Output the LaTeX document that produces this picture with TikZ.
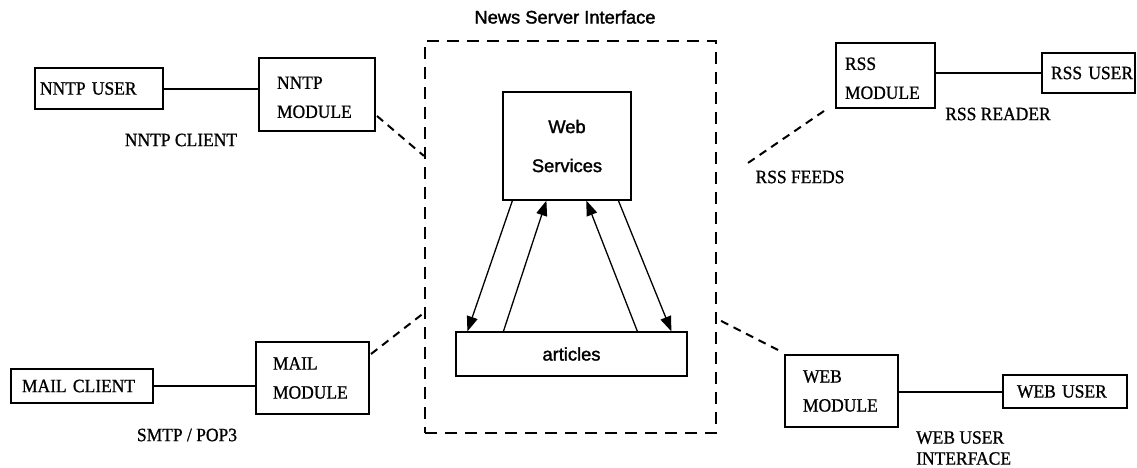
\documentclass[tikz,border=0pt]{standalone}
\usepackage{fontspec}
\setmainfont{Liberation Serif}[FakeStretch=0.93,FakeBold=0.9]
\newfontfamily\arialfont{Liberation Sans}[FakeBold=1.6]
\usetikzlibrary{arrows.meta,calc}

\begin{document}
\begin{tikzpicture}[x=1pt,y=-1pt,
  box/.style={draw, line width=2pt, rectangle, inner ysep=0pt, align=left,
              font=\fontsize{18.8}{29}\selectfont},
  inbox/.style={draw, line width=1.2pt, rectangle, inner sep=0pt, align=center,
              font=\arialfont\fontsize{18.3}{39}\selectfont},
  link/.style={line width=2pt},
  dlink/.style={line width=2pt, dash pattern=on 8pt off 6pt},
  flow/.style={line width=1.3pt, -{Triangle[length=15pt,width=11pt]}},
  lbl/.style={font=\fontsize{18.8}{21}\selectfont, inner sep=0pt},
]
\useasboundingbox (0,0) rectangle (1137,467);

% central server block
\node[draw, line width=2.2pt, dash pattern=on 12pt off 8pt, inner sep=0pt,
      minimum width=291pt, minimum height=392pt] (frame) at (570.5,237) {};
\node[inner sep=0pt, font=\arialfont\fontsize{18.3}{22}\selectfont] (title) at (565,17) {News Server Interface};
\node[inbox, minimum width=128pt, minimum height=108pt] (ws) at (567,146) {Web\\Services};
\node[inbox, minimum width=231pt, minimum height=44pt] (art) at (571.5,354) {articles};

\draw[flow] ($(ws.south west)+(10,0)$) -- ($(art.north west)+(12,0)$);
\draw[flow] ($(art.north west)+(48,0)$) -- ($(ws.south west)+(44,0)$);
\draw[flow] ($(art.north west)+(182,0)$) -- ($(ws.south west)+(84,0)$);
\draw[flow] ($(ws.south west)+(116,0)$) -- ($(art.north west)+(216,0)$);

% NNTP side
\node[box, text width=118pt, inner xsep=5pt, minimum height=41pt] (nntpuser) at (99,88.5) {NNTP USER};
\node[box, text width=80pt, inner xsep=18pt, minimum height=73pt] (nntpmod) at (317,94.5) {\rule{0pt}{18pt}NNTP\\MODULE};
\node[lbl] (nntpclient) at (181,140) {NNTP CLIENT};
\draw[link] (nntpuser.east) -- (nntpuser.east -| nntpmod.west);
\draw[dlink] ($(nntpmod.east)+(1,21.5)$) -- ($(frame.north west)+(0,116)$);

% mail side
\node[box, text width=120pt, inner xsep=11pt, minimum height=34pt] (mailclient) at (82,386) {MAIL CLIENT};
\node[box, text width=79pt, inner xsep=17pt, minimum height=72pt] (mailmod) at (312.5,378) {MAIL\\MODULE};
\node[lbl] (smtp) at (187,435) {SMTP / POP3};
\draw[link] (mailclient.east) -- (mailclient.east -| mailmod.west);
\draw[dlink] ($(mailmod.north east)+(1,13)$) -- ($(frame.north west)+(0,273)$);

% RSS side
\node[box, text width=81pt, inner xsep=9pt, minimum height=65pt] (rssmod) at (885.5,75.5) {\rule{0pt}{18pt}RSS\\MODULE};
\node[box, text width=93pt, inner xsep=0pt, minimum height=40pt] (rssuser) at (1088.5,73) {\hspace*{9pt}\mbox{RSS USER}};
\node[lbl] (rssreader) at (998,114) {RSS READER};
\node[lbl] (rssfeeds) at (800,177) {RSS FEEDS};
\coordinate (feedend) at (745,165);
\draw[link] (rssuser.west) -- (rssuser.west -| rssmod.east);
\draw[dlink] ($(rssmod.south west)+(-11,2)$) -- (feedend);

% web side
\node[box, text width=77pt, inner xsep=18pt, minimum height=72pt] (webmod) at (841.5,391) {WEB\\MODULE};
\node[box, text width=96pt, inner xsep=14pt, minimum height=33pt] (webuser) at (1065,391.5) {WEB USER};
\node[lbl, align=left, anchor=west, font=\fontsize{18.8}{21}\selectfont] (webui) at (916,448) {WEB USER\\INTERFACE};
\draw[link] (webuser.west) -- (webuser.west -| webmod.east);
\draw[dlink] ($(frame.north east)+(4,281)$) -- ($(webmod.north west)+(-4,-3)$);
\end{tikzpicture}
\end{document}
